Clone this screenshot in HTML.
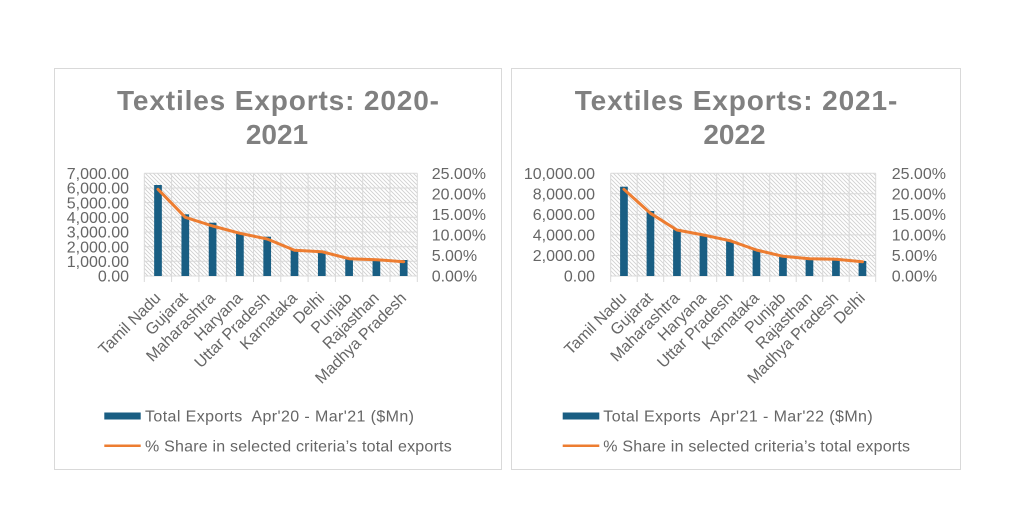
<!DOCTYPE html>
<html>
<head>
<meta charset="utf-8">
<style>
html,body{margin:0;padding:0;background:#fff;}
svg{display:block;}
text{font-family:"Liberation Sans",Arial,sans-serif;}
</style>
</head>
<body>
<svg width="1024" height="519" viewBox="0 0 1024 519" xmlns="http://www.w3.org/2000/svg">
<defs>
<pattern id="hatch" patternUnits="userSpaceOnUse" width="4" height="4">
<rect width="4" height="4" fill="#ffffff"/>
<path d="M-1,-1 L5,5 M-1,3 L1,5 M3,-1 L5,1" stroke="#d0d0d0" stroke-width="0.9"/>
</pattern>
</defs>
<rect width="1024" height="519" fill="#fff"/>

<!-- ============ LEFT CHART ============ -->
<rect x="54.5" y="68.5" width="447" height="401" fill="#fff" stroke="#d9d9d9" stroke-width="1"/>
<text x="278" y="110" font-size="28" font-weight="bold" fill="#808080" text-anchor="middle" textLength="322" lengthAdjust="spacing">Textiles Exports: 2020-</text>
<text x="277" y="144" font-size="28" font-weight="bold" fill="#808080" text-anchor="middle">2021</text>

<rect x="144.3" y="173.3" width="273" height="102.7" fill="url(#hatch)"/>
<g stroke="#d9d9d9" stroke-width="1" fill="none">
<line x1="144.3" y1="173.3" x2="417.3" y2="173.3"/>
<line x1="144.3" y1="188" x2="417.3" y2="188"/>
<line x1="144.3" y1="202.6" x2="417.3" y2="202.6"/>
<line x1="144.3" y1="217.3" x2="417.3" y2="217.3"/>
<line x1="144.3" y1="232" x2="417.3" y2="232"/>
<line x1="144.3" y1="246.7" x2="417.3" y2="246.7"/>
<line x1="144.3" y1="261.3" x2="417.3" y2="261.3"/>
<line x1="144.3" y1="276" x2="417.3" y2="276"/>
<line x1="144.3" y1="173.3" x2="144.3" y2="282"/>
<line x1="171.6" y1="173.3" x2="171.6" y2="282"/>
<line x1="198.9" y1="173.3" x2="198.9" y2="282"/>
<line x1="226.2" y1="173.3" x2="226.2" y2="282"/>
<line x1="253.5" y1="173.3" x2="253.5" y2="282"/>
<line x1="280.8" y1="173.3" x2="280.8" y2="282"/>
<line x1="308.1" y1="173.3" x2="308.1" y2="282"/>
<line x1="335.4" y1="173.3" x2="335.4" y2="282"/>
<line x1="362.7" y1="173.3" x2="362.7" y2="282"/>
<line x1="390" y1="173.3" x2="390" y2="282"/>
<line x1="417.3" y1="173.3" x2="417.3" y2="282"/>
</g>
<g fill="#195e83">
<rect x="154.15" y="185" width="7.7" height="91"/>
<rect x="181.45" y="214.3" width="7.7" height="61.7"/>
<rect x="208.75" y="222.7" width="7.7" height="53.3"/>
<rect x="236.05" y="232.7" width="7.7" height="43.3"/>
<rect x="263.35" y="236.7" width="7.7" height="39.3"/>
<rect x="290.65" y="250" width="7.7" height="26"/>
<rect x="317.95" y="250.7" width="7.7" height="25.3"/>
<rect x="345.25" y="258.7" width="7.7" height="17.3"/>
<rect x="372.55" y="260" width="7.7" height="16"/>
<rect x="399.85" y="260" width="7.7" height="16"/>
</g>
<polyline points="158,189.3 185.3,217.3 212.6,226 239.9,233.3 267.2,239 294.5,250.3 321.8,251.7 349.1,258.7 376.4,259.7 403.7,261.7" fill="none" stroke="#ed7d31" stroke-width="3" stroke-linejoin="round" stroke-linecap="round"/>

<g font-size="16" fill="#666" text-anchor="end">
<text x="129" y="179">7,000.00</text>
<text x="129" y="193.7">6,000.00</text>
<text x="129" y="208.3">5,000.00</text>
<text x="129" y="223">4,000.00</text>
<text x="129" y="237.7">3,000.00</text>
<text x="129" y="252.4">2,000.00</text>
<text x="129" y="267">1,000.00</text>
<text x="129" y="281.7">0.00</text>
</g>
<g font-size="16" fill="#666" text-anchor="start">
<text x="431.7" y="179">25.00%</text>
<text x="431.7" y="199.5">20.00%</text>
<text x="431.7" y="220.1">15.00%</text>
<text x="431.7" y="240.6">10.00%</text>
<text x="431.7" y="261.2">5.00%</text>
<text x="431.7" y="281.7">0.00%</text>
</g>
<g font-size="16" fill="#666" text-anchor="end">
<text transform="translate(161.5,299) rotate(-45)">Tamil Nadu</text>
<text transform="translate(188.8,299) rotate(-45)">Gujarat</text>
<text transform="translate(216.1,299) rotate(-45)">Maharashtra</text>
<text transform="translate(243.4,299) rotate(-45)">Haryana</text>
<text transform="translate(270.7,299) rotate(-45)">Uttar Pradesh</text>
<text transform="translate(298,299) rotate(-45)">Karnataka</text>
<text transform="translate(325.3,299) rotate(-45)">Delhi</text>
<text transform="translate(352.6,299) rotate(-45)">Punjab</text>
<text transform="translate(379.9,299) rotate(-45)">Rajasthan</text>
<text transform="translate(407.2,299) rotate(-45)">Madhya Pradesh</text>
</g>
<rect x="104.3" y="412.5" width="36.4" height="7" fill="#195e83"/>
<text x="145" y="421.7" font-size="16" fill="#666" textLength="269" lengthAdjust="spacing">Total Exports&#160; Apr'20 - Mar'21 ($Mn)</text>
<line x1="104.3" y1="445.7" x2="140.7" y2="445.7" stroke="#ed7d31" stroke-width="2.5"/>
<text x="145" y="451.7" font-size="16" fill="#666" textLength="306.7" lengthAdjust="spacing">% Share in selected criteria’s total exports</text>

<!-- ============ RIGHT CHART ============ -->
<rect x="511.5" y="68.5" width="449" height="401" fill="#fff" stroke="#d9d9d9" stroke-width="1"/>
<text x="736" y="110" font-size="28" font-weight="bold" fill="#808080" text-anchor="middle" textLength="322.6" lengthAdjust="spacing">Textiles Exports: 2021-</text>
<text x="734.5" y="144" font-size="28" font-weight="bold" fill="#808080" text-anchor="middle">2022</text>

<rect x="610.7" y="173.3" width="265" height="102.7" fill="url(#hatch)"/>
<g stroke="#d9d9d9" stroke-width="1" fill="none">
<line x1="610.7" y1="173.3" x2="875.7" y2="173.3"/>
<line x1="610.7" y1="193.8" x2="875.7" y2="193.8"/>
<line x1="610.7" y1="214.4" x2="875.7" y2="214.4"/>
<line x1="610.7" y1="234.9" x2="875.7" y2="234.9"/>
<line x1="610.7" y1="255.5" x2="875.7" y2="255.5"/>
<line x1="610.7" y1="276" x2="875.7" y2="276"/>
<line x1="610.7" y1="173.3" x2="610.7" y2="282"/>
<line x1="637.2" y1="173.3" x2="637.2" y2="282"/>
<line x1="663.7" y1="173.3" x2="663.7" y2="282"/>
<line x1="690.2" y1="173.3" x2="690.2" y2="282"/>
<line x1="716.7" y1="173.3" x2="716.7" y2="282"/>
<line x1="743.2" y1="173.3" x2="743.2" y2="282"/>
<line x1="769.7" y1="173.3" x2="769.7" y2="282"/>
<line x1="796.2" y1="173.3" x2="796.2" y2="282"/>
<line x1="822.7" y1="173.3" x2="822.7" y2="282"/>
<line x1="849.2" y1="173.3" x2="849.2" y2="282"/>
<line x1="875.7" y1="173.3" x2="875.7" y2="282"/>
</g>
<g fill="#195e83">
<rect x="620.1" y="186.7" width="7.7" height="89.3"/>
<rect x="646.6" y="211" width="7.7" height="65"/>
<rect x="673.1" y="229.3" width="7.7" height="46.7"/>
<rect x="699.6" y="235.7" width="7.7" height="40.3"/>
<rect x="726.1" y="241" width="7.7" height="35"/>
<rect x="752.6" y="250" width="7.7" height="26"/>
<rect x="779.1" y="256.7" width="7.7" height="19.3"/>
<rect x="805.6" y="259" width="7.7" height="17"/>
<rect x="832.1" y="260" width="7.7" height="16"/>
<rect x="858.6" y="261" width="7.7" height="15"/>
</g>
<polyline points="623.95,189.3 650.45,213.3 676.95,230 703.45,235 729.95,240.7 756.45,250 782.95,256.3 809.45,258.7 835.95,259.3 862.45,261.7" fill="none" stroke="#ed7d31" stroke-width="3" stroke-linejoin="round" stroke-linecap="round"/>

<g font-size="16" fill="#666" text-anchor="end">
<text x="595" y="179">10,000.00</text>
<text x="595" y="199.5">8,000.00</text>
<text x="595" y="220.1">6,000.00</text>
<text x="595" y="240.6">4,000.00</text>
<text x="595" y="261.2">2,000.00</text>
<text x="595" y="281.7">0.00</text>
</g>
<g font-size="16" fill="#666" text-anchor="start">
<text x="891.7" y="179">25.00%</text>
<text x="891.7" y="199.5">20.00%</text>
<text x="891.7" y="220.1">15.00%</text>
<text x="891.7" y="240.6">10.00%</text>
<text x="891.7" y="261.2">5.00%</text>
<text x="891.7" y="281.7">0.00%</text>
</g>
<g font-size="16" fill="#666" text-anchor="end">
<text transform="translate(627.4,299) rotate(-45)">Tamil Nadu</text>
<text transform="translate(653.9,299) rotate(-45)">Gujarat</text>
<text transform="translate(680.4,299) rotate(-45)">Maharashtra</text>
<text transform="translate(706.9,299) rotate(-45)">Haryana</text>
<text transform="translate(733.4,299) rotate(-45)">Uttar Pradesh</text>
<text transform="translate(759.9,299) rotate(-45)">Karnataka</text>
<text transform="translate(786.4,299) rotate(-45)">Punjab</text>
<text transform="translate(812.9,299) rotate(-45)">Rajasthan</text>
<text transform="translate(839.4,299) rotate(-45)">Madhya Pradesh</text>
<text transform="translate(865.9,299) rotate(-45)">Delhi</text>
</g>
<rect x="562.7" y="412.5" width="36.6" height="7" fill="#195e83"/>
<text x="603.3" y="421.7" font-size="16" fill="#666" textLength="269.4" lengthAdjust="spacing">Total Exports&#160; Apr'21 - Mar'22 ($Mn)</text>
<line x1="562.7" y1="445.7" x2="599.3" y2="445.7" stroke="#ed7d31" stroke-width="2.5"/>
<text x="603.3" y="451.7" font-size="16" fill="#666" textLength="306.7" lengthAdjust="spacing">% Share in selected criteria’s total exports</text>
</svg>
</body>
</html>
